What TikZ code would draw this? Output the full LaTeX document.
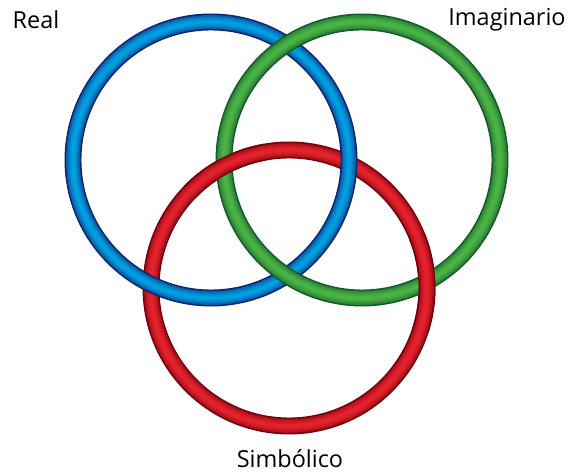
\documentclass[tikz,border=0pt]{standalone}
\usepackage{fontspec}
\setmainfont{Open Sans}
\definecolor{realdark}{RGB}{15,35,115}
\definecolor{reallight}{RGB}{0,160,225}
\definecolor{imagdark}{RGB}{20,90,40}
\definecolor{imaglight}{RGB}{75,180,70}
\definecolor{simbdark}{RGB}{115,0,10}
\definecolor{simblight}{RGB}{230,35,45}
% one ring (or a piece of it): colour, centre, start angle, end angle
\newcommand{\ringarc}[4]{%
  \foreach \w/\p in {17/0,14/45,11/70,7/88,3/100}
    \draw[line width=\w*0.85pt, #1light!\p!#1dark] (#2) ++(#3:138) arc (#3:#4:138);
}
\begin{document}
\begin{tikzpicture}[x=0.03cm, y=0.03cm,
    label/.style={font=\fontsize{20}{24}\selectfont, inner sep=0pt}]
    \useasboundingbox (0,0) rectangle (576,475);
    \coordinate (real) at (211,315);
    \coordinate (imag) at (362,315);
    \coordinate (simb) at (289,187);
    % red under blue, blue under green
    \ringarc{simb}{simb}{0}{360}
    \ringarc{real}{real}{0}{360}
    \ringarc{imag}{imag}{0}{360}
    % red over green again
    \ringarc{simb}{simb}{100}{136}
    \ringarc{simb}{simb}{-18}{22}
    \node[label] (lreal) at (36,455) {Real};
    \node[label] (limag) at (507,455) {Imaginario};
    \node[label] (lsimb) at (290,16) {Simbólico};
\end{tikzpicture}
\end{document}
